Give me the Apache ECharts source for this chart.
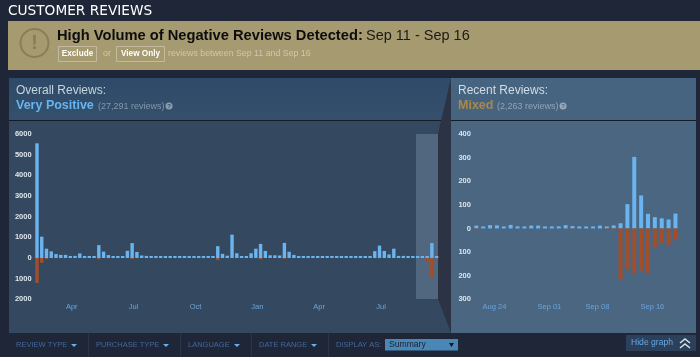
<!DOCTYPE html>
<html>
<head>
<meta charset="utf-8">
<title>Customer Reviews</title>
<script src="https://cdn.jsdelivr.net/npm/echarts@6/dist/echarts.min.js"></script>
<style>
html, body { margin: 0; padding: 0; background: #1f2638; }
#chart { width: 700px; height: 357px; }
</style>
</head>
<body>
<div id="chart"></div>
<script>
// weekly bars, overall reviews
var overallPositive = [5550, 1030, 450, 320, 190, 150, 150, 90, 100, 220, 80, 50, 50, 620, 310, 140, 70, 50, 50, 350,
    720, 290, 120, 100, 70, 50, 80, 60, 50, 40, 40, 40, 40, 30, 30, 30, 30, 80, 570, 200,
    110, 1130, 230, 70, 50, 230, 450, 680, 340, 130, 130, 120, 730, 300, 150, 60, 30, 30, 30, 30,
    30, 30, 30, 30, 40, 30, 30, 30, 30, 30, 30, 330, 600, 340, 170, 450, 100, 100, 70, 70,
    30, 30, 30, 720, 30];
var overallNegative = [-1210, -230, -50, 0, 0, 0, 0, 0, 0, 0, 0, 0, 0, -60, 0, 0, 0, 0, 0, 0,
    -50, 0, 0, 0, 0, 0, 0, 0, 0, 0, 0, 0, 0, 0, 0, 0, 0, 0, -100, 0,
    0, 0, 0, 0, 0, 0, 0, -60, 0, 0, 0, 0, -40, 0, 0, 0, 0, 0, 0, 0,
    0, 0, 0, 0, 0, 0, 0, 0, 0, 0, 0, 0, 0, 0, 0, 0, 0, 0, 0, 0,
    0, 0, -200, -970, -30];
var overallWeeks = overallPositive.map(function (v, i) { return 'W' + (i + 1); });
var overallTickIndex = [7, 20, 33, 46, 59, 72];
var overallTickLabels = ['Apr', 'Jul', 'Oct', 'Jan', 'Apr', 'Jul'];

// daily bars, last 30 days
var recentDays = ['Aug 21', 'Aug 22', 'Aug 23', 'Aug 24', 'Aug 25', 'Aug 26', 'Aug 27', 'Aug 28', 'Aug 29', 'Aug 30', 'Aug 31',
    'Sep 01', 'Sep 02', 'Sep 03', 'Sep 04', 'Sep 05', 'Sep 06', 'Sep 07', 'Sep 08', 'Sep 09', 'Sep 10',
    'Sep 11', 'Sep 12', 'Sep 13', 'Sep 14', 'Sep 15', 'Sep 16', 'Sep 17', 'Sep 18', 'Sep 19'];
var recentPositive = [12, 5, 14, 13, 7, 15, 9, 7, 12, 12, 3, 8, 9, 14, 10, 6, 2, 3, 12, 7, 13, 22, 103, 303, 140, 62, 48, 43, 38, 63];
var recentNegative = [-5, 0, 0, 0, 0, 0, 0, 0, 0, 0, 0, 0, 0, 0, -2, 0, 0, 0, 0, -2, -5, -215, -172, -190, -178, -188, -82, -65, -70, -50];
var recentTickLabels = ['Aug 24', 'Sep 01', 'Sep 08', 'Sep 16'];

var filterNames = ['REVIEW TYPE', 'PURCHASE TYPE', 'LANGUAGE', 'DATE RANGE'];

var SANS = '"Liberation Sans", Arial, sans-serif';
var BLUE = '#6ab4f0';
var RED = '#a24e2a';

function txt(x, y, text, font, fill, align) {
    return {
        type: 'text', z: 5, x: x, y: y,
        style: { text: text, font: font + ' ' + SANS, fill: fill, align: align || 'left', verticalAlign: 'middle' }
    };
}

function box(x, y, w, h, fill, stroke) {
    return {
        type: 'rect', z: 1,
        shape: { x: x, y: y, width: w, height: h },
        style: { fill: fill, stroke: stroke || null, lineWidth: stroke ? 1 : 0 }
    };
}

function poly(points, fill) {
    return { type: 'polygon', z: 2, shape: { points: points }, style: { fill: fill } };
}

function vGrad(c1, c2) {
    return new echarts.graphic.LinearGradient(0, 0, 0, 1, [{ offset: 0, color: c1 }, { offset: 1, color: c2 }]);
}

function chrome() {
    var g = [];
    // banner
    g.push(txt(8, 11, 'CUSTOMER REVIEWS', 'bold 13px', '#ffffff'));
    g[0].style.font = '500 13.7px "DejaVu Sans", sans-serif';
    g.push(box(8, 21, 692, 49, '#a69a70'));
    g.push({ type: 'circle', z: 2, shape: { cx: 34.5, cy: 43, r: 14 }, style: { fill: null, stroke: '#8a7e5a', lineWidth: 2 } });
    g.push(txt(34.5, 43, '!', 'bold 21px', '#8a7e5a', 'center'));
    g.push(txt(57, 36, 'High Volume of Negative Reviews Detected:', 'bold 14.7px', '#0d0d0d'));
    g.push(txt(366, 36, 'Sep 11 - Sep 16', '14.5px', '#1a1a18'));
    g.push(box(58.5, 46.5, 38, 15, null, '#c4baa0'));
    g.push(txt(77.5, 54, 'Exclude', 'bold 8.2px', '#ffffff', 'center'));
    g.push(txt(103, 54, 'or', '8.8px', '#cfc8ae'));
    g.push(box(116.5, 46.5, 48, 15, null, '#c4baa0'));
    g.push(txt(140.5, 54, 'View Only', 'bold 8.2px', '#ffffff', 'center'));
    g.push(txt(168, 54, 'reviews between Sep 11 and Sep 16', '8.8px', '#cfc8ae'));

    // panels
    g.push(box(9, 78, 442, 255, '#34485f'));
    g.push(box(9, 78, 442, 42, vGrad('#2f4a68', '#35506c')));
    g.push(box(451, 78, 245, 255, '#4a6681'));
    g.push(box(451, 78, 245, 42, '#466380'));
    g.push(box(9, 120, 442, 1, '#141c28'));
    g.push(box(451, 120, 245, 1, '#141c28'));
    g.push(poly([[451, 78], [438, 134], [438, 299], [451, 333]], '#2b3345'));
    // the 30 day window shown on the right
    g.push(box(416, 134, 22, 165, '#50677f'));

    // panel headers
    g.push(txt(16, 91, 'Overall Reviews:', '12px', '#c6d4df'));
    g.push(txt(16, 106, 'Very Positive', 'bold 12.5px', '#66b4f2'));
    g.push(txt(98, 107, '(27,291 reviews)', '9px', '#8398ad'));
    g.push({ type: 'circle', z: 2, shape: { cx: 169, cy: 106, r: 3.5 }, style: { fill: '#8a9cae' } });
    g.push(txt(169, 106, '?', 'bold 6px', '#34485f', 'center'));
    g.push(txt(458, 91, 'Recent Reviews:', '12px', '#d2dde6'));
    g.push(txt(458, 106, 'Mixed', 'bold 12.5px', '#a8894c'));
    g.push(txt(497, 107, '(2,263 reviews)', '9px', '#92a4b6'));
    g.push({ type: 'circle', z: 2, shape: { cx: 563, cy: 106, r: 3.5 }, style: { fill: '#98a8b8' } });
    g.push(txt(563, 106, '?', 'bold 6px', '#466380', 'center'));

    // filter bar
    var filterX = [16, 96, 188, 259];
    var arrowX = [74, 166, 237, 314];
    var sepX = [88, 180, 251, 328];
    for (var i = 0; i < filterNames.length; i++) {
        g.push(txt(filterX[i], 345, filterNames[i], '7.5px', '#44689a'));
        g.push(poly([[arrowX[i] - 3, 344], [arrowX[i] + 3, 344], [arrowX[i], 347]], '#66b0ee'));
        g.push(box(sepX[i], 333, 1, 24, '#2b3548'));
    }
    g.push(txt(336, 345, 'DISPLAY AS:', '7.5px', '#44689a'));
    g.push(box(385, 339, 73, 11.5, '#4a86b6'));
    g.push(txt(389, 345, 'Summary', '8.6px', '#1a2230'));
    g.push(poly([[449, 343], [454, 343], [451.5, 347]], '#10151f'));

    g.push(box(626, 335, 70, 16, '#2c4059'));
    g.push(txt(631, 343, 'Hide graph', '8.6px', '#66a8e6'));
    g.push({ type: 'polyline', z: 2, shape: { points: [[680, 343], [685, 339], [690, 343]] }, style: { fill: null, stroke: '#d8e2ea', lineWidth: 1.5 } });
    g.push({ type: 'polyline', z: 2, shape: { points: [[680, 348], [685, 344], [690, 348]] }, style: { fill: null, stroke: '#d8e2ea', lineWidth: 1.5 } });
    return g;
}

function valueAxis(gridIndex, min, max, interval, margin) {
    return {
        type: 'value', gridIndex: gridIndex, min: min, max: max, interval: interval, z: 4,
        axisLine: { show: false }, axisTick: { show: false }, splitLine: { show: false },
        axisLabel: {
            margin: margin, color: '#dde6ee', fontFamily: SANS, fontWeight: 'bold', fontSize: 7.5,
            formatter: function (v) { return Math.abs(v); }
        }
    };
}

function catAxis(gridIndex, data, isTick, format, padding) {
    return {
        type: 'category', gridIndex: gridIndex, data: data, z: 4,
        axisLine: { show: false, onZero: false }, axisTick: { show: false },
        axisLabel: {
            interval: function (i) { return isTick(i); },
            formatter: format, margin: 4, padding: padding, hideOverlap: false,
            color: '#6ba4dc', fontFamily: SANS, fontSize: 7.5
        }
    };
}

function barSeries(idx, data, color, width, stack, minHeight) {
    return {
        type: 'bar', xAxisIndex: idx, yAxisIndex: idx, data: data, stack: stack, barWidth: width,
        barMinHeight: minHeight,
        itemStyle: { color: color }, silent: true, z: 3
    };
}

var myChart = echarts.init(document.getElementById('chart'));
var option = {
    animation: false,
    backgroundColor: '#1f2638',
    graphic: { elements: chrome() },
    grid: [
        { left: 34.6, top: 134, width: 404.4, height: 165.3 },
        { left: 472.9, top: 134, width: 206, height: 165.3 }
    ],
    xAxis: [
        catAxis(0, overallWeeks,
            function (i) { return overallTickIndex.indexOf(i) >= 0; },
            function (v, i) { return overallTickLabels[overallTickIndex.indexOf(i)] || ''; }, [0, 0, 0, 3]),
        catAxis(1, recentDays,
            function (i) { return recentTickLabels.indexOf(recentDays[i]) >= 0; },
            function (v) { return v; }, [0, 5, 0, 0])
    ],
    yAxis: [
        valueAxis(0, -2000, 6000, 1000, 3),
        valueAxis(1, -300, 400, 100, 2)
    ],
    series: [
        barSeries(0, overallPositive, BLUE, 3.4, 'overall', 2),
        barSeries(0, overallNegative, RED, 3.4, 'overall', 0),
        barSeries(1, recentPositive, BLUE, 4, 'recent', 2),
        barSeries(1, recentNegative, RED, 4, 'recent', 0)
    ]
};
myChart.setOption(option);
</script>
</body>
</html>
